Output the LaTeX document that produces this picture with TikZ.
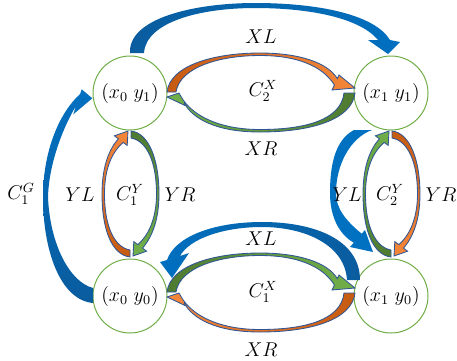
\documentclass[tikz,border=0pt]{standalone}
\definecolor{bl}{HTML}{0070C0}
\definecolor{blD}{HTML}{0A5C9E}
\definecolor{orD}{HTML}{C55A11}
\definecolor{orLt}{HTML}{F4873A}
\definecolor{grD}{HTML}{4E7A30}
\definecolor{grLt}{HTML}{72B04A}
\definecolor{edgeblue}{HTML}{2F5597}
\definecolor{circ}{HTML}{70AD47}
\tikzset{
  state/.style={circle, draw=circ, line width=0.6pt, minimum size=44.4pt, inner sep=0pt},
  lbl/.style={inner sep=0pt},
  barrow/.style={line width=0pt},
  cband/.style={draw=edgeblue, line width=0.5pt},
  oR/.style={cband, left color=orD, right color=orLt},
  oL/.style={cband, left color=orLt, right color=orD},
  oU/.style={cband, top color=orLt, bottom color=orD},
  oDn/.style={cband, top color=orD, bottom color=orLt},
  gR/.style={cband, left color=grD, right color=grLt},
  gL/.style={cband, left color=grLt, right color=grD},
  gU/.style={cband, top color=grLt, bottom color=grD},
  gDn/.style={cband, top color=grD, bottom color=grLt},
}
% horizontal pair: #1 = y shift, #2 = style of upper arrow (left to right), #3 = style of lower arrow (right to left)
\newcommand\hpairdraw[3]{%
\begin{scope}[shift={(0,#1)}]
\path[#2] (167,92) .. controls (170,65) and (215,53) .. (260,53) .. controls (300,53) and (328,63) .. (337.3,78.6)
  -- (339,75) -- (355,88) -- (332,90) -- (334.4,85)
  .. controls (322,65) and (295,55.5) .. (260,55.5) .. controls (220,55.5) and (180,67) .. (176,92) -- cycle;
\path[#3] (355,93) .. controls (352,120) and (310,132) .. (260,132) .. controls (215,132) and (192,118) .. (184,102.7)
  -- (186,106) -- (167,97) -- (179,93) -- (181,96.5)
  .. controls (192,116) and (220,129.5) .. (260,129.5) .. controls (305,129.5) and (341,120) .. (344,93) -- cycle;
\end{scope}}
% vertical pair: #1 = x shift, #2 = style of left arrow (upwards), #3 = style of right arrow (downwards)
\newcommand\vpairdraw[3]{%
\begin{scope}[shift={(#1,0)}]
\path[#2] (130,257) .. controls (112,255) and (102,230) .. (102,194) .. controls (102,165) and (110,148) .. (118.4,138.8)
  -- (114.4,135.8) -- (128,131) -- (127.2,145.4) -- (123.2,142.4)
  .. controls (111,153) and (104.5,170) .. (104.5,194) .. controls (104.5,226) and (114,247) .. (130,250) -- cycle;
\path[#3] (131,131) .. controls (149,133) and (159,160) .. (159,194) .. controls (159,222) and (151,238) .. (142.6,248.2)
  -- (146.6,251.2) -- (133,256) -- (133.8,241.6) -- (137.8,244.6)
  .. controls (150,234) and (156.5,216) .. (156.5,194) .. controls (156.5,162) and (147,141) .. (131,138) -- cycle;
\end{scope}}
\begin{document}
\begin{tikzpicture}[x=0.6pt, y=-0.6pt, font=\fontsize{12}{14}\selectfont]
\useasboundingbox (0,0) rectangle (457,360);
% states
\node[state] (n01) at (130,93)  {$(x_0\;y_1)$};
\node[state] (n11) at (391,93)  {$(x_1\;y_1)$};
\node[state] (n00) at (130,296) {$(x_0\;y_0)$};
\node[state] (n10) at (391,296) {$(x_1\;y_0)$};
% blue arrows
\path[barrow, left color=blD, right color=bl]
  (130,53) .. controls (128,18) and (195,3) .. (255,3) .. controls (320,3) and (375,15) .. (390,40)
  -- (400,42) -- (388,54) -- (368,40) -- (378,40)
  .. controls (360,18) and (310,8) .. (255,8) .. controls (200,8) and (146,22) .. (144,53) -- cycle;
\path[barrow, top color=bl, bottom color=blD]
  (93,303) .. controls (60,300) and (43,250) .. (43,197) .. controls (43,150) and (60,112) .. (80.1,94)
  -- (81.7,89.3) -- (92.3,98.3) -- (73.3,114.3) -- (76,106)
  .. controls (66,122) and (49,160) .. (48,197) .. controls (50,245) and (70,282) .. (93,288) -- cycle;
\path[barrow, fill=bl]
  (354,130) .. controls (335,140) and (330,165) .. (330,193) .. controls (330,218) and (340,235) .. (353.8,242.7)
  -- (350,247) -- (373,252) -- (365,230) -- (361.7,233.7)
  .. controls (345,220) and (336,208) .. (336,193) .. controls (336,165) and (350,138) .. (372,130) -- cycle;
\path[barrow, left color=bl, right color=blD]
  (360,280) .. controls (360,240) and (315,222) .. (262,222) .. controls (215,222) and (175,236) .. (167,260)
  -- (160,262) -- (172,278) -- (189,253) -- (180,256)
  .. controls (190,238) and (225,227) .. (262,227) .. controls (305,227) and (345,245) .. (347,280) -- cycle;
% orange / green pairs
\hpairdraw{0}{oR}{gL}
\hpairdraw{200}{gR}{oL}
\vpairdraw{0}{oU}{gDn}
\vpairdraw{261}{gU}{oDn}
% labels
\node[lbl] (xlt) at (261,37)  {$XL$};
\node[lbl] (c2x) at (263,91)  {$C_2^X$};
\node[lbl] (xrt) at (261,149) {$XR$};
\node[lbl] (xlb) at (261,239) {$XL$};
\node[lbl] (c1x) at (263,292) {$C_1^X$};
\node[lbl] (xrb) at (261,350) {$XR$};
\node[lbl] (c1g) at (21,194)  {$C_1^G$};
\node[lbl] (yl1) at (80,195)  {$YL$};
\node[lbl] (c1y) at (130,195) {$C_1^Y$};
\node[lbl] (yr1) at (180,195) {$YR$};
\node[lbl] (yl2) at (347,195) {$YL$};
\node[lbl] (c2y) at (390,195) {$C_2^Y$};
\node[lbl] (yr2) at (441,195) {$YR$};
\end{tikzpicture}
\end{document}
